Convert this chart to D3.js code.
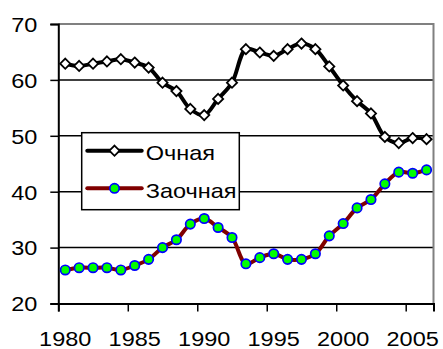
<!DOCTYPE html>
<html><head><meta charset="utf-8">
<script src="https://cdn.jsdelivr.net/npm/d3@7"></script>
<style>
html,body{margin:0;padding:0;background:#fff;}
svg{display:block;}
text{font-family:"Liberation Sans",Arial,sans-serif;font-size:21px;fill:#000;}
.sx{transform-box:fill-box;transform:scaleX(1.12);}
</style></head>
<body>
<svg id="c" width="443" height="349"></svg>
<script>
const years = [1980,1981,1982,1983,1984,1985,1986,1987,1988,1989,1990,1991,1992,1993,1994,1995,1996,1997,1998,1999,2000,2001,2002,2003,2004,2005,2006];
const ochnaya = [62.9,62.5,62.9,63.3,63.7,63.1,62.2,59.5,58.0,54.8,53.7,56.6,59.5,65.5,64.9,64.3,65.5,66.5,65.5,62.4,59.0,56.2,54.0,49.8,48.7,49.6,49.4];
const zaochnaya = [26.0,26.4,26.4,26.4,26.0,26.8,27.9,30.0,31.4,34.2,35.2,33.6,31.8,27.1,28.2,28.9,27.9,27.9,28.9,32.1,34.3,37.1,38.6,41.4,43.5,43.3,43.9];
const yTicks = [20,30,40,50,60,70];
const xTickLabels = [1980,1985,1990,1995,2000,2005];
const seriesNames = ["Очная","Заочная"];

const svg = d3.select("#c");
const L=58.3, R=433.5, T=24, B=303.5;
const x = d3.scaleBand().domain(years).range([L,R]).padding(0);
const xl = d3.scaleLinear().domain([years[0], years[years.length-1]+1]).range([L,R]);
const y = d3.scaleLinear().domain([20,70]).range([B,T]);
const cx = d => x(d)+x.bandwidth()/2;

// gridlines
svg.append("g").selectAll("line").data(yTicks.filter(v=>v>20 && v<70)).join("line")
  .attr("x1",L).attr("x2",R).attr("y1",d=>y(d)).attr("y2",d=>y(d))
  .attr("stroke","#000").attr("stroke-width",1.5);
// plot border top/right gray
svg.append("path").attr("d",`M${L},${T}H${R}V${B}`).attr("fill","none").attr("stroke","#808080").attr("stroke-width",2);

// y axis
const ya = svg.append("g").attr("transform",`translate(${L},0)`)
  .call(d3.axisLeft(y).tickValues(yTicks).tickSize(8).tickPadding(13));
ya.select(".domain").attr("stroke","#000").attr("stroke-width",2);
ya.selectAll(".tick line").attr("stroke","#000").attr("stroke-width",1.5);
ya.selectAll("text").attr("class","sx").style("transform-origin","right center").attr("dy","0.35em");
ya.attr("font-size",null).attr("font-family",null);

// x axis tick marks (at category boundaries)
const xa = svg.append("g").attr("transform",`translate(0,${B})`)
  .call(d3.axisBottom(xl).tickValues(xTickLabels).tickSize(8).tickFormat(""));
xa.select(".domain").attr("stroke","#000").attr("stroke-width",2);
xa.selectAll(".tick line").attr("stroke","#000").attr("stroke-width",1.5);
// x labels at category centers
const xb = svg.append("g").attr("transform",`translate(0,${B})`)
  .call(d3.axisBottom(x).tickValues(xTickLabels).tickSize(0).tickPadding(27.5));
xb.select(".domain").remove();
xb.attr("font-size",null).attr("font-family",null);
xb.selectAll("text").attr("class","sx").style("transform-origin","center").attr("dy","0.71em");

const line = d3.line().x((d,i)=>cx(years[i])).y(d=>y(d)).curve(d3.curveCatmullRom.alpha(0.5));

// Очная
svg.append("path").datum(ochnaya).attr("d",line).attr("fill","none").attr("stroke","#000").attr("stroke-width",4);
const diamond = d3.symbol().type(d3.symbolDiamond2).size(66);
svg.append("g").selectAll("path").data(ochnaya).join("path")
  .attr("d",diamond).attr("transform",(d,i)=>`translate(${cx(years[i])},${y(d)})`)
  .attr("fill","#fff").attr("stroke","#000").attr("stroke-width",1.8);

// Заочная
svg.append("path").datum(zaochnaya).attr("d",line).attr("fill","none").attr("stroke","#800000").attr("stroke-width",4);
svg.append("g").selectAll("circle").data(zaochnaya).join("circle")
  .attr("cx",(d,i)=>cx(years[i])).attr("cy",d=>y(d)).attr("r",4.7)
  .attr("fill","#00ff00").attr("stroke","#0000ff").attr("stroke-width",1.7);

// legend
const lg = svg.append("g");
lg.append("rect").attr("x",81.7).attr("y",132.7).attr("width",157.6).attr("height",77)
  .attr("fill","#fff").attr("stroke","#000").attr("stroke-width",1.5);
const rows = [
  {name:seriesNames[0], y:150.7, stroke:"#000"},
  {name:seriesNames[1], y:188.3, stroke:"#800000"}
];
rows.forEach((r,i)=>{
  lg.append("line").attr("x1",87.3).attr("x2",141.7).attr("y1",r.y).attr("y2",r.y)
    .attr("stroke",r.stroke).attr("stroke-width",4).attr("stroke-linecap","round");
  if(i===0){
    lg.append("path").attr("d",diamond).attr("transform",`translate(114.5,${r.y})`)
      .attr("fill","#fff").attr("stroke","#000").attr("stroke-width",1.8);
  } else {
    lg.append("circle").attr("cx",114.5).attr("cy",r.y).attr("r",4.7)
      .attr("fill","#00ff00").attr("stroke","#0000ff").attr("stroke-width",1.7);
  }
  lg.append("text").attr("x",145.7).attr("y",r.y+9.5).attr("class","sx").style("transform-origin","left center").text(r.name);
});
</script>
</body></html>
